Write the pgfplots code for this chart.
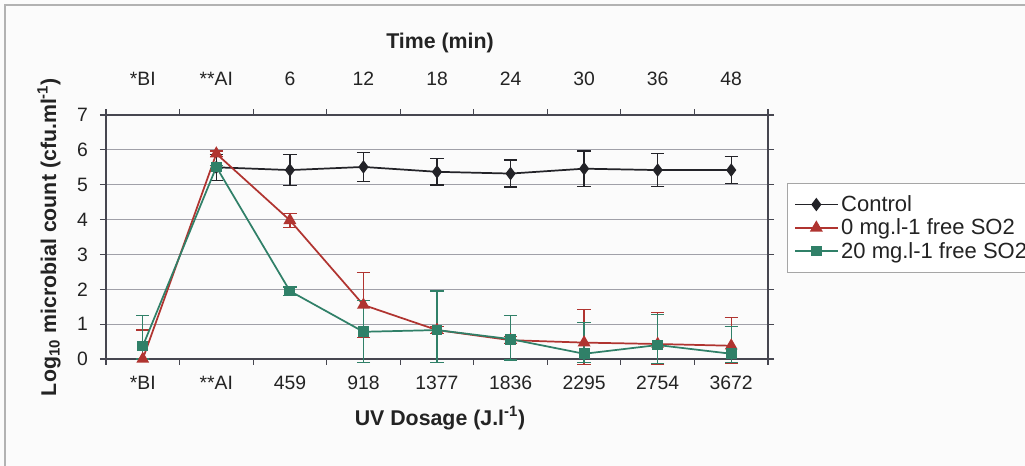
\documentclass[border=0pt]{standalone}
\usepackage{pgfplots}
\usepackage{pgfplotstable}
\pgfplotsset{compat=1.18}
\usepackage{fontspec}
\setmainfont{Liberation Sans}

\definecolor{ctrl}{RGB}{35,35,40}
\definecolor{sored}{RGB}{176,52,48}
\definecolor{sogreen}{RGB}{48,128,104}
\definecolor{gridc}{RGB}{160,160,168}
\definecolor{axc}{RGB}{70,70,80}
\definecolor{txt}{RGB}{35,35,35}

% x: 0 = before irradiation, 1 = after inoculation, 2..8 = UV dosage steps
\pgfplotstableread{
x y ep em
1 5.50 0.37 0.37
2 5.42 0.44 0.44
3 5.51 0.41 0.41
4 5.37 0.38 0.38
5 5.32 0.39 0.39
6 5.46 0.51 0.51
7 5.42 0.48 0.48
8 5.42 0.39 0.39
}\control

\pgfplotstableread{
x y ep em
0 0.00 0.83 0.00
1 5.89 0.08 0.08
2 3.98 0.20 0.20
3 1.55 0.93 0.93
4 0.83 0.10 0.10
5 0.54 0.10 0.10
6 0.47 0.95 0.62
7 0.43 0.90 0.58
8 0.38 0.82 0.50
}\sozero

\pgfplotstableread{
x y ep em
0 0.37 0.87 0.37
1 5.51 0.05 0.05
2 1.95 0.12 0.12
3 0.78 0.89 0.89
4 0.83 1.12 0.94
5 0.57 0.67 0.60
6 0.15 0.89 0.26
7 0.40 0.88 0.52
8 0.15 0.79 0.26
}\sotwenty

\pgfplotsset{
  panel/.style={
    scale only axis, width=496.5pt, height=183pt,
    at={(79.5pt,80.25pt)}, anchor=south west,
    xmin=-0.5, xmax=8.5, ymin=0, ymax=7,
    axis line style={axc, line width=0.9pt},
    tick style={axc, line width=0.8pt},
    tick align=outside,
    major tick length=4.5pt, minor tick length=4.5pt,
    xtick={0,...,8},
    minor xtick={-0.5,0.5,...,8.5},
    major x tick style={draw=none},
    ticklabel style={font=\fontsize{14.5}{16}\selectfont, text=txt},
  },
}

\begin{document}
\begin{tikzpicture}[x=0.75pt,y=0.75pt]
\useasboundingbox (0,0) rectangle (1025,466);
\clip (0,0) rectangle (1025,466);
\fill[white!97!gray] (0,0) rectangle (1025,466);
\draw[gray!60, line width=1pt] (5,-20) -- (5,461) -- (1050,461);

% time axis along the top
\begin{axis}[panel,
  xtick pos=upper, xticklabel pos=upper,
  xticklabels={*BI,**AI,6,12,18,24,30,36,48},
  xticklabel style={yshift=14pt},
  ytick=\empty,
]
\addplot[draw=none] coordinates {(0,0)};
\end{axis}

\begin{axis}[panel,
  xtick pos=lower,
  xticklabels={*BI,**AI,459,918,1377,1836,2295,2754,3672},
  xticklabel style={yshift=-4.5pt},
  ytick={0,...,7},
  yticklabel style={xshift=-5.5pt},
  /pgf/number format/assume math mode=true,
  ymajorgrids, grid style={gridc, line width=0.7pt},
  clip=false,
  legend style={at={(1.0287,0.721)}, anchor=north west,
    draw=gray!70, fill=white, line width=0.7pt,
    font=\fontsize{16.5}{18}\selectfont, text=txt,
    inner xsep=5pt, inner ysep=7pt, row sep=0pt},
  legend cell align=left,
  legend image code/.code={
    \draw[mark repeat=2, mark phase=2] plot coordinates {(0pt,0pt) (16pt,0pt) (32pt,0pt)};
  },
  error bars/y dir=both, error bars/y explicit,
  error bars/error mark options={rotate=90, mark size=5pt, line width=1pt},
]
\addplot[ctrl, line width=1.3pt, mark=diamond*, mark size=4pt,
  error bars/error bar style={ctrl, line width=1pt}]
  table[x=x, y=y, y error plus=ep, y error minus=em] {\control};
\addlegendentry{Control}
\addplot[sored, line width=1.3pt, mark=triangle*, mark size=4.3pt,
  error bars/error bar style={sored, line width=1pt}]
  table[x=x, y=y, y error plus=ep, y error minus=em] {\sozero};
\addlegendentry{0 mg.l-1 free SO2}
\addplot[sogreen, line width=1.3pt, mark=square*, mark size=3.4pt,
  error bars/error bar style={sogreen, line width=1pt}]
  table[x=x, y=y, y error plus=ep, y error minus=em] {\sotwenty};
\addlegendentry{20 mg.l-1 free SO2}
\end{axis}

\node[font=\bfseries\fontsize{16}{18}\selectfont, text=txt] at (440,423) {Time (min)};
\node[font=\bfseries\fontsize{16}{18}\selectfont, text=txt] at (440,48) {UV Dosage (J.l\textsuperscript{-1})};
\node[font=\bfseries\fontsize{16}{18}\selectfont, text=txt, rotate=90] at (49,229)
  {Log\textsubscript{10} microbial count (cfu.ml\textsuperscript{-1})};
\end{tikzpicture}
\end{document}
